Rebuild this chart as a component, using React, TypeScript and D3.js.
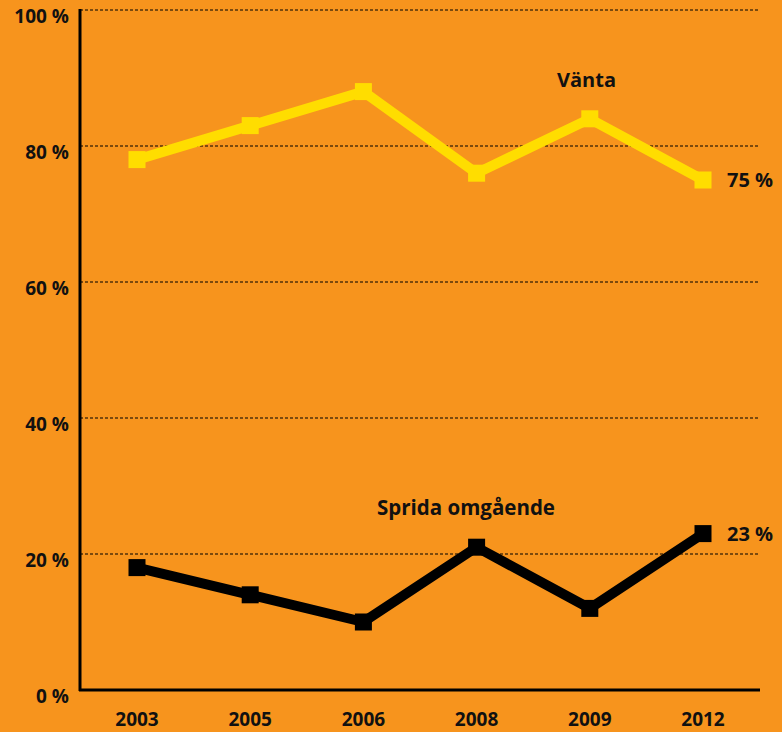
import React, { useEffect } from "react";
import * as d3 from "d3";

const years = ["2003", "2005", "2006", "2008", "2009", "2012"];
const vanta = [78, 83, 88, 76, 84, 75];
const sprida = [18, 14, 10, 21, 12, 23];
const yTicks = [0, 20, 40, 60, 80, 100];

const W = 782;
const H = 732;
const BG = "#F7941D";
const YELLOW = "#FFDD00";
const FONT = "'Open Sans', 'DejaVu Sans', sans-serif";

const App = () => {
  useEffect(() => {
    document.body.style.margin = "0";
  }, []);

  const x = d3.scalePoint().domain(years).range([137, 703]);
  const y = d3.scaleLinear().domain([0, 100]).range([690, 10]);
  const line = d3
    .line<number>()
    .x((d, i) => x(years[i]) as number)
    .y((d) => y(d));

  const series = [
    { name: "Vänta", values: vanta, color: YELLOW },
    { name: "Sprida omgående", values: sprida, color: "#000" },
  ];
  const sq = 17;

  return (
    <svg width={W} height={H} style={{ display: "block", background: BG }}>
      <rect width={W} height={H} fill={BG} />
      {yTicks
        .filter((t) => t > 0)
        .map((t) => (
          <line
            key={t}
            x1={80}
            x2={760}
            y1={y(t)}
            y2={y(t)}
            stroke="#000"
            strokeWidth={1}
            strokeDasharray="3,2"
          />
        ))}
      {yTicks.map((t) => (
        <text
          key={t}
          x={69}
          y={y(t) + 13}
          textAnchor="end"
          fontFamily={FONT}
          fontWeight="bold"
          fontSize={19}
          fill="#111"
        >
          {t} %
        </text>
      ))}
      <line x1={80} x2={80} y1={9} y2={691} stroke="#000" strokeWidth={3} />
      <line x1={79} x2={760} y1={690} y2={690} stroke="#000" strokeWidth={3} />
      {years.map((yr) => (
        <text
          key={yr}
          x={x(yr)}
          y={726}
          textAnchor="middle"
          fontFamily={FONT}
          fontWeight="bold"
          fontSize={19}
          fill="#111"
        >
          {yr}
        </text>
      ))}
      {series.map((s) => (
        <g key={s.name}>
          <path d={line(s.values) ?? ""} fill="none" stroke={s.color} strokeWidth={10} strokeLinejoin="miter" />
          {s.values.map((v, i) => (
            <rect
              key={i}
              x={(x(years[i]) as number) - sq / 2}
              y={y(v) - sq / 2}
              width={sq}
              height={sq}
              fill={s.color}
            />
          ))}
        </g>
      ))}
      <text x={557} y={87} fontFamily={FONT} fontWeight="bold" fontSize={20} fill="#111">
        Vänta
      </text>
      <text x={727} y={y(vanta[vanta.length - 1]) + 7} fontFamily={FONT} fontWeight="bold" fontSize={20} fill="#111">
        {vanta[vanta.length - 1]} %
      </text>
      <text x={377} y={515} fontFamily={FONT} fontWeight="bold" fontSize={20.5} fill="#111">
        Sprida omgående
      </text>
      <text x={727} y={y(sprida[sprida.length - 1]) + 7} fontFamily={FONT} fontWeight="bold" fontSize={20} fill="#111">
        {sprida[sprida.length - 1]} %
      </text>
    </svg>
  );
};

export default App;
